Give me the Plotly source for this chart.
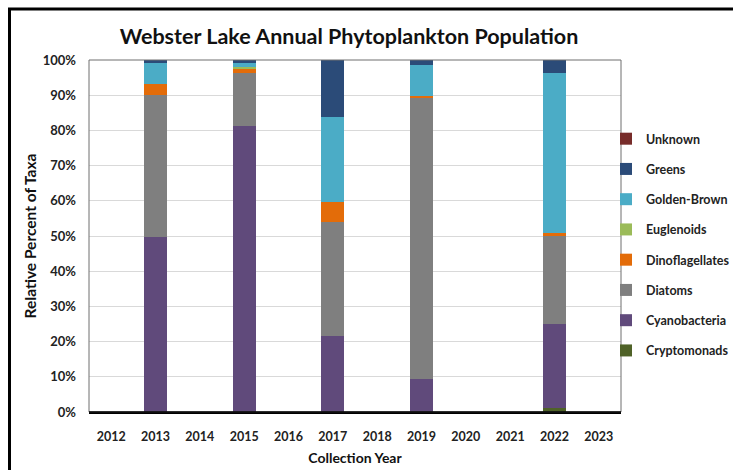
import plotly.graph_objects as go

years = ["2012", "2013", "2014", "2015", "2016", "2017", "2018", "2019", "2020", "2021", "2022", "2023"]

cryptomonads   = [0, 0,    0, 0,    0, 0,    0, 0,    0, 0, 1.2,  0]
cyanobacteria  = [0, 49.8, 0, 81.3, 0, 21.6, 0, 9.4,  0, 0, 23.8, 0]
diatoms        = [0, 40.3, 0, 15.0, 0, 32.5, 0, 79.9, 0, 0, 25.0, 0]
dinoflagellates= [0, 3.0,  0, 1.2,  0, 5.6,  0, 0.6,  0, 0, 0.9,  0]
euglenoids     = [0, 0,    0, 0.5,  0, 0,    0, 0,    0, 0, 0,    0]
golden_brown   = [0, 6.1,  0, 1.2,  0, 24.0, 0, 8.7,  0, 0, 45.5, 0]
greens         = [0, 0.8,  0, 0.8,  0, 16.3, 0, 1.4,  0, 0, 3.6,  0]
unknown        = [0, 0,    0, 0,    0, 0,    0, 0,    0, 0, 0,    0]

series = [
    ("Cryptomonads", cryptomonads, "#4F6228"),
    ("Cyanobacteria", cyanobacteria, "#604A7B"),
    ("Diatoms", diatoms, "#7F7F7F"),
    ("Dinoflagellates", dinoflagellates, "#E36C09"),
    ("Euglenoids", euglenoids, "#9BBB59"),
    ("Golden-Brown", golden_brown, "#4BACC6"),
    ("Greens", greens, "#2B4B78"),
    ("Unknown", unknown, "#772C2A"),
]

FONT = "Lato"

fig = go.Figure()
n = len(series)
for i, (name, vals, col) in enumerate(series):
    fig.add_trace(go.Bar(
        x=years, y=[v / 100 for v in vals], name="<b>" + name + "</b>",
        marker=dict(color=col, line=dict(width=0)),
        legendgroup=name, legendrank=n - i,
    ))

fig.update_layout(
    barmode="stack",
    bargap=0.48,
    width=733, height=470,
    margin=dict(l=89, r=112, t=60, b=58, autoexpand=False),
    paper_bgcolor="white",
    plot_bgcolor="white",
    font=dict(family=FONT, color="#222222"),
    title=dict(
        text="<b>Webster Lake Annual Phytoplankton Population</b>",
        x=349 / 733, xanchor="center", y=1 - 36 / 470, yanchor="middle",
        font=dict(size=21.5, family=FONT, color="#111111"),
    ),
    legend=dict(
        traceorder="grouped",
        tracegroupgap=11,
        x=(606 - 89) / 532, xanchor="left", y=0.818, yanchor="top",
        font=dict(size=12.5, family=FONT, color="#222222"),
        itemwidth=30,
        bgcolor="rgba(0,0,0,0)",
    ),
    xaxis=dict(
        type="category",
        automargin=False,
        tickfont=dict(size=12.5, family=FONT, color="#222222"),
        title=dict(text="<b>Collection Year</b>", font=dict(size=14, family=FONT, color="#111111"), standoff=10),
        showline=True, linecolor="black", linewidth=1.5,
        ticks="", showgrid=False,
        ticklabelstandoff=12,
        tickprefix="<b>", ticksuffix="</b>",
    ),
    yaxis=dict(
        range=[0, 1], dtick=0.1, tickformat=".0%",
        automargin=False,
        tickfont=dict(size=13, family=FONT, color="#222222"),
        title=dict(text="<b>Relative Percent of Taxa</b>", font=dict(size=15.5, family=FONT, color="#111111"), standoff=2),
        showgrid=True, gridcolor="#D9D9D9", gridwidth=1,
        zeroline=False, ticks="",
        ticklabelstandoff=12,
        tickprefix="<b>", ticksuffix="</b>",
    ),
    shapes=[
        dict(type="rect", xref="paper", yref="paper", x0=0, x1=1, y0=0, y1=1,
             line=dict(color="#6E6E6E", width=1), layer="above"),
        dict(type="line", xref="paper", yref="paper", x0=0, x1=1, y0=0, y1=0,
             line=dict(color="black", width=1.5), layer="above"),
        dict(type="line", xref="paper", yref="paper",
             x0=(9.5 - 89) / 532, x1=(9.5 - 89) / 532, y0=-0.2, y1=(412 - 9) / 352,
             line=dict(color="black", width=3)),
        dict(type="line", xref="paper", yref="paper",
             x0=(8 - 89) / 532, x1=(740 - 89) / 532, y0=(412 - 9) / 352, y1=(412 - 9) / 352,
             line=dict(color="black", width=3)),
    ],
)

fig.write_html("out.html", config={"displayModeBar": False})
